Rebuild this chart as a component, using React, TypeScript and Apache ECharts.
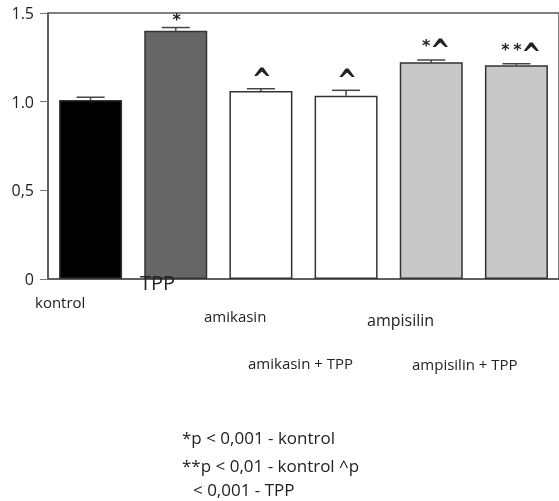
import React, { useEffect, useRef } from "react";
import * as echarts from "echarts";

const categories = ["kontrol", "TPP", "amikasin", "amikasin + TPP", "ampisilin", "ampisilin + TPP"];
const means = [1.01, 1.4, 1.06, 1.034, 1.222, 1.205];
const upper = [1.025, 1.418, 1.073, 1.064, 1.235, 1.214];
const marks = ["", "*", "^", "^", "*^", "**^"];
const fills = ["#000000", "#666666", "#ffffff", "#ffffff", "#c8c8c8", "#c8c8c8"];
const yTickLabels: Record<string, string> = { "0": "0", "0.5": "0,5", "1": "1.0", "1.5": "1.5" };
const footnotes = ["*p < 0,001 - kontrol", "**p < 0,01 - kontrol ^p", "< 0,001 - TPP"];

// label placements (pixel, left x / centre y) for the scattered category names
const labelPos = [
  { x: 35, y: 302, size: 15 },
  { x: 140, y: 282, size: 20 },
  { x: 204, y: 316, size: 15 },
  { x: 248, y: 363, size: 15 },
  { x: 367, y: 320, size: 16 },
  { x: 412, y: 364, size: 15 },
];

const FONT = "'Open Sans', 'Noto Sans', sans-serif";
const MARK_FONT = "'DejaVu Sans', sans-serif";

export default function App() {
  const ref = useRef<HTMLDivElement>(null);
  useEffect(() => {
    if (!ref.current) return;
    const chart = echarts.init(ref.current, undefined, { renderer: "svg" });
    const graphic: any[] = [];
    categories.forEach((c, i) => {
      graphic.push({
        type: "text",
        x: labelPos[i].x,
        y: labelPos[i].y,
        z: 100,
        style: { text: c, fontSize: labelPos[i].size, fontFamily: FONT, fill: "#222", verticalAlign: "middle" },
      });
    });
    const footY = [437, 465, 489];
    const footX = [182, 182, 193];
    footnotes.forEach((t, i) => {
      graphic.push({
        type: "text",
        x: footX[i],
        y: footY[i],
        z: 100,
        style: { text: t, fontSize: 17, fontFamily: FONT, fill: "#222", verticalAlign: "middle" },
      });
    });
    chart.setOption({
      animation: false,
      textStyle: { fontFamily: FONT },
      grid: {
        left: 48,
        top: 13,
        width: 516,
        height: 266,
        show: true,
        borderColor: "#555",
        borderWidth: 1.5,
        containLabel: false,
      },
      xAxis: {
        type: "category",
        data: categories,
        axisLine: { lineStyle: { color: "#555", width: 1.5 } },
        axisTick: { alignWithLabel: true, length: 8, lineStyle: { color: "#555", width: 1.5 } },
        axisLabel: { show: false },
      },
      yAxis: {
        type: "value",
        min: 0,
        max: 1.5,
        interval: 0.5,
        axisLine: { show: true, lineStyle: { color: "#555", width: 1.5 } },
        axisTick: { show: true, length: 8, lineStyle: { color: "#777", width: 1 } },
        splitLine: { show: false },
        axisLabel: {
          fontSize: 16,
          color: "#222",
          margin: 14,
          formatter: (v: number) => yTickLabels[String(v)] ?? String(v),
        },
      },
      series: [
        {
          type: "bar",
          barWidth: 63,
          data: means.map((v, i) => ({
            value: v,
            itemStyle: { color: fills[i], borderColor: "#333", borderWidth: 1.5 },
          })),
        },
        {
          type: "custom",
          data: means.map((v, i) => [i, v, upper[i]]),
          renderItem: (params: any, api: any) => {
            const i = api.value(0);
            const p0 = api.coord([i, api.value(1)]);
            const p1 = api.coord([i, api.value(2)]);
            const hw = 14;
            const children: any[] = [
              { type: "line", shape: { x1: p0[0], y1: p0[1], x2: p1[0], y2: p1[1] }, style: { stroke: "#444", lineWidth: 1.5 } },
              { type: "line", shape: { x1: p1[0] - hw, y1: p1[1], x2: p1[0] + hw, y2: p1[1] }, style: { stroke: "#444", lineWidth: 1.5 } },
            ];
            const m: string = marks[params.dataIndex];
            if (m) {
              const chars = m.split("");
              const widths = chars.map((ch) => (ch === "*" ? 12 : 16));
              const total = widths.reduce((a, b) => a + b, 0);
              let cx = p1[0] - total / 2 + (chars.length > 1 ? 3 : 1);
              const hasCaret = m.indexOf("^") >= 0;
              chars.forEach((ch, k) => {
                const isCaret = ch === "^";
                const cy = isCaret ? p1[1] - 9 : p1[1] - (hasCaret ? 14 : 8);
                children.push({
                  type: "text",
                  x: cx + widths[k] / 2,
                  y: cy,
                  scaleY: isCaret ? 1.35 : 1,
                  style: {
                    text: ch,
                    fontSize: isCaret ? 24 : 16,
                    fontWeight: "bold",
                    fontFamily: MARK_FONT,
                    fill: "#222",
                    align: "center",
                    verticalAlign: "middle",
                  },
                });
                cx += widths[k];
              });
            }
            return { type: "group", children };
          },
          z: 5,
        },
      ],
      graphic,
    });
    return () => chart.dispose();
  }, []);
  return <div ref={ref} style={{ position: "fixed", left: 0, top: 0, width: 559, height: 501 }} />;
}
